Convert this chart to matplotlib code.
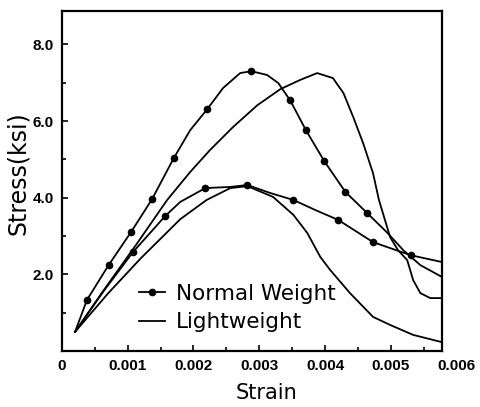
import matplotlib
matplotlib.use("Agg")
import matplotlib.pyplot as plt
from matplotlib.ticker import MultipleLocator

# normal weight concrete, higher strength
nw_hi_strain = [0.0002, 0.00038, 0.00071, 0.00105, 0.00137, 0.00170, 0.00195, 0.00221, 0.00245,
                0.00271, 0.00288, 0.00312, 0.00329, 0.00347, 0.00371, 0.00399, 0.00431, 0.00464,
                0.00495, 0.00519, 0.00545, 0.00578]
nw_hi_stress = [0.50, 1.33, 2.24, 3.10, 3.96, 5.03, 5.76, 6.31, 6.86,
                7.25, 7.30, 7.20, 6.99, 6.54, 5.76, 4.95, 4.15, 3.60,
                3.08, 2.63, 2.24, 1.93]
nw_hi_marks = [1, 2, 3, 4, 5, 7, 10, 13, 14, 15, 16, 17]

# normal weight concrete, lower strength
nw_lo_strain = [0.0002, 0.00065, 0.00108, 0.00157, 0.0018, 0.00218, 0.00256, 0.00282, 0.00317,
                0.00352, 0.00385, 0.0042, 0.00473, 0.0053, 0.00578]
nw_lo_stress = [0.50, 1.60, 2.58, 3.52, 3.89, 4.25, 4.28, 4.33, 4.12,
                3.94, 3.68, 3.42, 2.84, 2.50, 2.32]
nw_lo_marks = [2, 3, 5, 7, 9, 11, 12, 13]

# lightweight concrete, higher strength
lw_hi_strain = [0.0002, 0.0006, 0.00114, 0.0016, 0.00195, 0.00225, 0.0026, 0.00297, 0.00332,
                0.00362, 0.00388, 0.00412, 0.00428, 0.00443, 0.00458, 0.00473, 0.00482, 0.00499,
                0.00511, 0.00525, 0.00534, 0.00545, 0.0056, 0.00578]
lw_hi_stress = [0.50, 1.50, 2.80, 3.94, 4.67, 5.24, 5.84, 6.41, 6.83,
                7.07, 7.25, 7.12, 6.73, 6.10, 5.42, 4.64, 3.94, 2.97,
                2.63, 2.37, 1.85, 1.51, 1.38, 1.38]

# lightweight concrete, lower strength
lw_lo_strain = [0.0002, 0.0007, 0.0012, 0.0018, 0.0022, 0.00256, 0.00282, 0.00321, 0.00352,
                0.00373, 0.00393, 0.00408, 0.00438, 0.00473, 0.00499, 0.00534, 0.00578]
lw_lo_stress = [0.50, 1.50, 2.42, 3.44, 3.94, 4.25, 4.30, 4.02, 3.55,
                3.08, 2.45, 2.11, 1.51, 0.89, 0.68, 0.42, 0.23]

x_ticks = [0, 0.001, 0.002, 0.003, 0.004, 0.005, 0.006]
x_labels = ['0', '0.001', '0.002', '0.003', '0.004', '0.005', '0.006']
y_ticks = [2.0, 4.0, 6.0, 8.0]
y_labels = ['2.0', '4.0', '6.0', '8.0']

tickfont = {'family': ['Liberation Sans', 'DejaVu Sans'], 'weight': 'bold', 'size': 11}
labfont = ['DejaVu Sans']

fig = plt.figure(figsize=(4.8, 4.07), dpi=100)
ax = fig.add_axes([0.129, 0.1376, 0.792, 0.8354])

ax.plot(nw_hi_strain, nw_hi_stress, color='k', lw=1.3, marker='o', ms=4.5,
        markevery=nw_hi_marks, label='Normal Weight')
ax.plot(nw_lo_strain, nw_lo_stress, color='k', lw=1.3, marker='o', ms=4.5,
        markevery=nw_lo_marks)
ax.plot(lw_hi_strain, lw_hi_stress, color='k', lw=1.3, label='Lightweight')
ax.plot(lw_lo_strain, lw_lo_stress, color='k', lw=1.3)

ax.set_xlim(0, 0.00578)
ax.set_ylim(0, 8.87)
ax.set_xticks(x_ticks[:-1])
ax.set_xticklabels(x_labels[:-1], fontdict=tickfont)
# last label sits past the right edge of the axes
ax.annotate(x_labels[-1], xy=(x_ticks[-1], 0), xycoords=('data', 'axes fraction'),
            xytext=(0, -6), textcoords='offset points', ha='center', va='top',
            annotation_clip=False, **tickfont)
ax.set_yticks(y_ticks)
ax.set_yticklabels(y_labels, fontdict=tickfont)
ax.xaxis.set_minor_locator(MultipleLocator(0.0005))
ax.yaxis.set_minor_locator(MultipleLocator(1.0))
ax.tick_params(which='both', direction='in', width=1.2)
ax.tick_params(which='major', length=4)
ax.tick_params(which='minor', length=3)
ax.tick_params(axis='x', pad=6)
ax.tick_params(axis='y', pad=6)
for s in ax.spines.values():
    s.set_linewidth(1.6)

fig.text(0.555, 0.035, 'Strain', ha='center', va='center', fontsize=15, family=labfont)
fig.text(0.038, 0.575, 'Stress(ksi)', ha='center', va='center', rotation=90,
         fontsize=17, family=labfont)

ax.legend(loc='center left', bbox_to_anchor=(0.175, 0.126), frameon=False, borderpad=0,
          handlelength=1.2, handletextpad=0.5, labelspacing=0.4,
          prop={'family': labfont, 'size': 15.5})

fig.savefig('out.png', dpi=100)
